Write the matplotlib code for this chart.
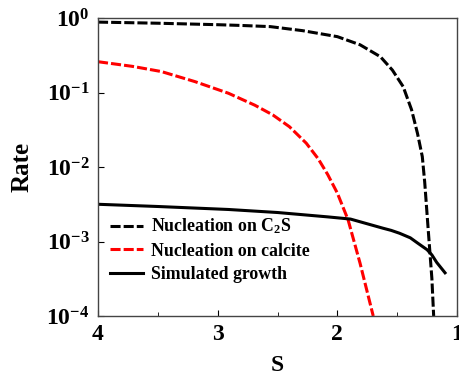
import matplotlib
matplotlib.use("Agg")
import matplotlib.pyplot as plt

plt.rcParams['font.family'] = ['Liberation Serif', 'DejaVu Serif']
plt.rcParams['mathtext.fontset'] = 'custom'
plt.rcParams['mathtext.rm'] = 'Liberation Serif:bold'
plt.rcParams['mathtext.bf'] = 'Liberation Serif:bold'
plt.rcParams['mathtext.default'] = 'bf'

# Nucleation on C2S
s_c2s = [4.0, 3.5, 3.0, 2.8, 2.56, 2.29, 2.0, 1.81, 1.64, 1.54, 1.45, 1.38, 1.33, 1.29, 1.27, 1.24, 1.21, 1.195]
r_c2s = [0.881, 0.851, 0.813, 0.794, 0.766, 0.676, 0.562, 0.437, 0.302, 0.200, 0.120, 0.0589, 0.0282, 0.0138, 0.0063, 0.0014, 0.00032, 0.0001]

# Nucleation on calcite
s_cal = [4.0, 3.71, 3.47, 3.19, 2.91, 2.69, 2.54, 2.40, 2.26, 2.16, 2.08, 2.0, 1.91, 1.81, 1.70]
r_cal = [0.259, 0.224, 0.191, 0.140, 0.0977, 0.0676, 0.0501, 0.0347, 0.0209, 0.0129, 0.0079, 0.00447, 0.00195, 0.00051, 0.0001]

# Simulated growth
s_gr = [4.0, 3.5, 2.91, 2.5, 2.08, 1.89, 1.62, 1.55, 1.48, 1.39, 1.33, 1.25, 1.21, 1.17, 1.10]
r_gr = [0.00316, 0.00295, 0.00269, 0.00245, 0.00214, 0.00200, 0.00151, 0.00141, 0.00129, 0.00112, 0.000955, 0.000776, 0.000661, 0.000525, 0.00038]

fig = plt.figure(figsize=(4.59, 3.76), dpi=100)
ax = fig.add_axes([98/459, 1-316/376, (457-98)/459, (316-18)/376])

dash = (0, (3.3, 1.0))
ax.plot(s_c2s, r_c2s, color='black', lw=2.2, ls=dash, label='Nucleation on C$_2$S')
ax.plot(s_cal, r_cal, color='red', lw=2.2, ls=dash, label='Nucleation on calcite')
ax.plot(s_gr, r_gr, color='black', lw=2.2, label='Simulated growth')

ax.set_yscale('log')
ax.set_xlim(4, 1)
ax.set_ylim(1e-4, 1)
ax.set_xticks([4, 3, 2, 1])
ax.set_xticklabels(['4', '3', '2', '1'])
ax.set_xticks([3.5, 2.5, 1.5], minor=True)
ax.set_yticks([1e-4, 1e-3, 1e-2, 1e-1, 1])
ax.set_yticklabels(['$10^{-4}$', '$10^{-3}$', '$10^{-2}$', '$10^{-1}$', '$10^{0}$'])
ax.yaxis.set_minor_locator(matplotlib.ticker.NullLocator())
ax.tick_params(which='both', direction='in', labelsize=17)
ax.tick_params(axis='x', pad=6)
ax.tick_params(axis='y', pad=6)
ax.tick_params(which='major', length=4)
ax.tick_params(which='minor', length=3)
for lab in ax.get_xticklabels():
    lab.set_fontweight('bold')
for sp in ax.spines.values():
    sp.set_color('#444444')
    sp.set_linewidth(1.0)

ax.set_xlabel('S', fontsize=17, fontweight='bold', labelpad=7)
ax.set_ylabel('Rate', fontsize=18, fontweight='bold', labelpad=9)

leg = ax.legend(loc='center left', bbox_to_anchor=(0.0, 0.222), frameon=False,
                prop={'family': 'Liberation Serif', 'weight': 'bold', 'size': 12.8},
                handlelength=1.9, handletextpad=0.45,
                labelspacing=0.35, borderaxespad=0.25)
for t in leg.get_texts():
    t.set_fontweight('bold')

fig.savefig('out.png', dpi=100)
